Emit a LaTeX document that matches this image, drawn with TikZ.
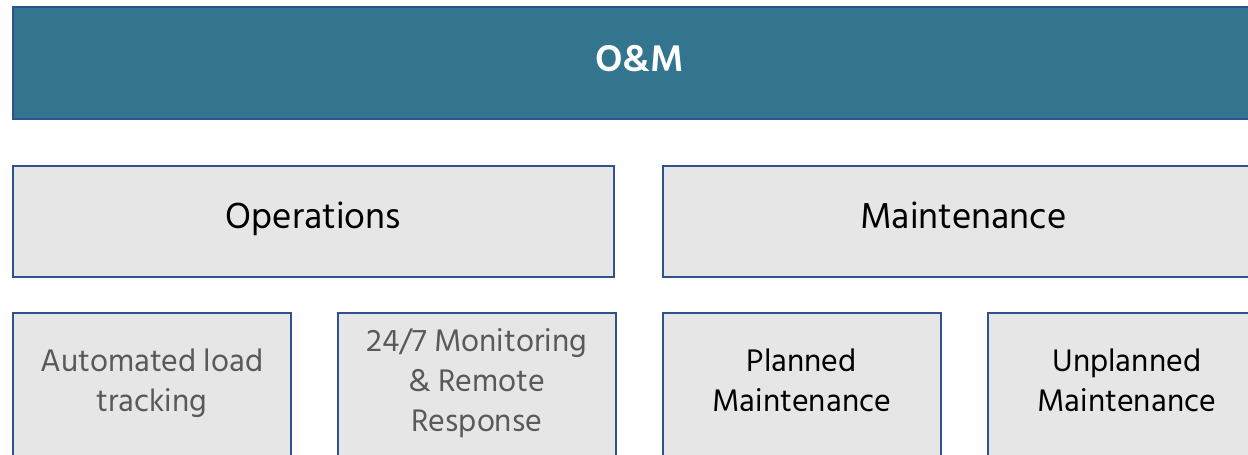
\documentclass[tikz,border=0pt]{standalone}
\usepackage{fontspec}
\setmainfont{Hind Siliguri}
\definecolor{edgeblue}{RGB}{47,82,143}
\definecolor{headteal}{RGB}{51,117,142}
\definecolor{boxgray}{RGB}{230,230,230}
\definecolor{textgray}{RGB}{89,89,89}
\begin{document}
\begin{tikzpicture}[x=.5pt,y=-.5pt,
    box/.style={draw=edgeblue,line width=.8pt,anchor=north west,inner sep=0pt},
    headbox/.style={box,fill=headteal,minimum width=626.5pt,minimum height=56pt},
    groupbox/.style={box,fill=boxgray,minimum width=300.5pt,minimum height=55.5pt},
    leafbox/.style={box,fill=boxgray,minimum width=139pt,minimum height=90pt},
    grouptext/.style={anchor=base,font=\fontsize{18.5}{22}\selectfont},
    leaftext/.style={align=center,font=\fontsize{16}{20}\selectfont}]
    \useasboundingbox (0,0) rectangle (1248,455);
    \clip (0,0) rectangle (1248,455);
    % Header
    \node[headbox] (om) at (12,6) {};
    \node[text=white,font=\fontsize{19}{22}\selectfont\bfseries] at ([yshift=2pt]om.center) {O\&M};
    % Groups
    \node[groupbox] (ops) at (12,165) {};
    \node[groupbox] (mnt) at (662,165) {};
    \node[grouptext] at ([yshift=-3.5pt]ops.center) {Operations};
    \node[grouptext] at ([yshift=-3.5pt]mnt.center) {Maintenance};
    % Leaves
    \node[leafbox] (auto) at (12,312) {};
    \node[leafbox] (mon) at (337,312) {};
    \node[leafbox] (plan) at (662,312) {};
    \node[leafbox] (unplan) at (987,312) {};
    \node[leaftext,text=textgray] at ([yshift=-35.5pt]auto.north) {Automated load\\tracking};
    \node[leaftext,text=textgray] at ([yshift=-35.5pt]mon.north) {24/7 Monitoring\\\& Remote\\Response};
    \node[leaftext] at ([yshift=-34pt]plan.north) {Planned\\Maintenance};
    \node[leaftext] at ([yshift=-34pt]unplan.north) {Unplanned\\Maintenance};
\end{tikzpicture}
\end{document}
